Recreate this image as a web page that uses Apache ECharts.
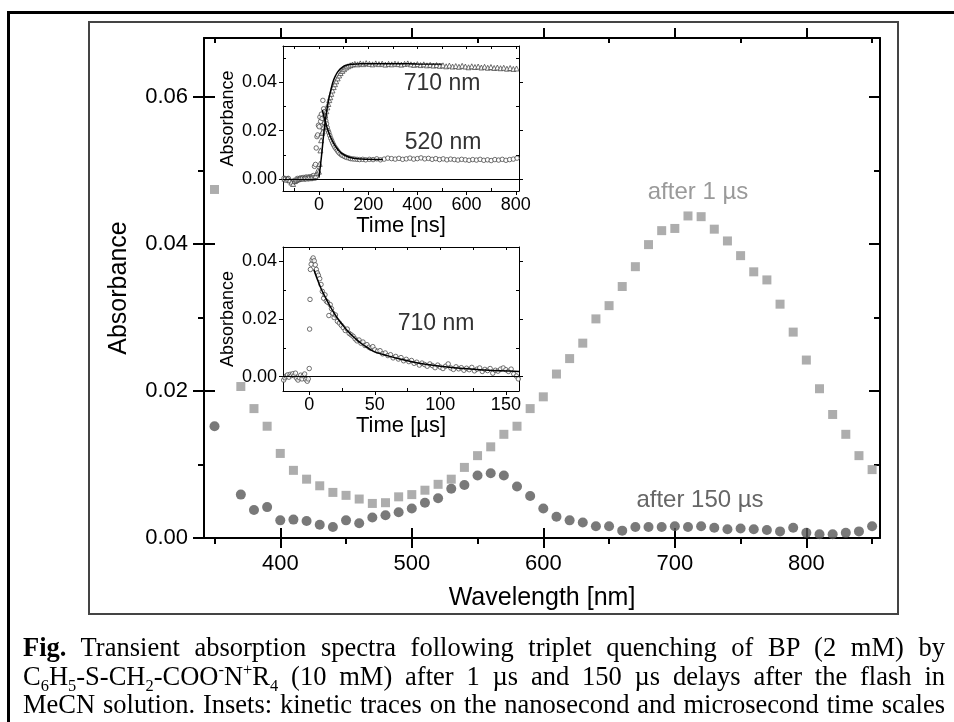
<!DOCTYPE html>
<html><head><meta charset="utf-8">
<script src="https://cdn.jsdelivr.net/npm/echarts@6/dist/echarts.min.js"></script>
<style>
html,body{margin:0;padding:0;background:#fff;overflow:hidden;width:954px;height:722px;}
#outer{position:absolute;left:7px;top:11px;width:2000px;height:2000px;border:3px solid #000;box-sizing:border-box;}
#frame{position:absolute;left:88px;top:21px;width:811px;height:594px;border:2px solid #444;box-sizing:border-box;}
#chart{position:absolute;left:0;top:0;width:954px;height:722px;}
.cap{position:absolute;left:23px;width:922px;font-family:"Liberation Serif","Times New Roman",serif;font-size:26.5px;line-height:28.5px;text-align:justify;text-align-last:justify;color:#000;}
.cap sub,.cap sup{font-size:0.62em;line-height:0;}
</style></head>
<body>
<div id="outer"></div>
<div id="frame"></div>
<div id="chart"></div>
<div class="cap" style="top:633px"><b>Fig.</b> Transient absorption spectra following triplet quenching of BP (2 mM) by</div>
<div class="cap" style="top:662px">C<sub>6</sub>H<sub>5</sub>-S-CH<sub>2</sub>-COO<sup>-</sup>N<sup>+</sup>R<sub>4</sub> (10 mM) after 1 µs and 150 µs delays after the flash in</div>
<div class="cap" style="top:690px">MeCN solution. Insets: kinetic traces on the nanosecond and microsecond time scales</div>
<script>
const FONT = '"Liberation Sans", Arial, sans-serif';

// ---- main spectra ----
const wavelengths = [350,370,380,390,400,410,420,430,440,450,460,470,480,490,500,510,520,530,540,550,560,570,580,590,600,610,620,630,640,650,660,670,680,690,700,710,720,730,740,750,760,770,780,790,800,810,820,830,840,850];
const after1us = [0.0474,0.0206,0.0176,0.0152,0.0115,0.0092,0.0080,0.0071,0.0062,0.0058,0.0053,0.0047,0.0048,0.0056,0.0059,0.0065,0.0073,0.0080,0.0096,0.0112,0.0124,0.0141,0.0152,0.0176,0.0192,0.0223,0.0244,0.0265,0.0298,0.0316,0.0342,0.0369,0.0399,0.0418,0.0421,0.0438,0.0437,0.0420,0.0404,0.0384,0.0362,0.0351,0.0318,0.0280,0.0242,0.0203,0.0168,0.0141,0.0112,0.0093];
const after150us = [0.0152,0.0059,0.0038,0.0042,0.0024,0.0025,0.0023,0.0018,0.0015,0.0024,0.0020,0.0028,0.0031,0.0035,0.0040,0.0048,0.0054,0.0067,0.0072,0.0085,0.0088,0.0085,0.0070,0.0057,0.0040,0.0029,0.0024,0.0021,0.0016,0.0016,0.0010,0.0015,0.0015,0.0015,0.0016,0.0015,0.0016,0.0014,0.0012,0.0013,0.0012,0.0011,0.0009,0.0014,0.0007,0.0005,0.0005,0.0007,0.0009,0.0016];

// ---- inset 1 (ns) ----
const ns520 = [[-142,0.0003],[-136,0.0001],[-130,-0.0004],[-124,0.0002],[-118,-0.0008],[-112,-0.0012],[-106,-0.0018],[-100,-0.0006],[-94,-0.0010],[-88,0.0002],[-82,-0.0003],[-76,0.0004],[-70,0.0001],[-64,0.0006],[-58,0.0003],[-52,0.0008],[-46,0.0005],[-40,0.0009],[-34,0.0006],[-28,0.0011],[-22,0.0014],[-18,0.0052],[-14,0.0060],[-11,0.0128],[-8,0.0175],[-5,0.0182],[-2,0.0222],[1,0.0216],[4,0.0256],[7,0.0238],[10,0.0268],[13,0.0250],[16,0.0325],[19,0.0290],[22,0.0278],[25,0.0262],[28,0.0240],[31,0.0228],[34,0.0212],[37,0.0200],[40,0.0192],[44,0.0180],[48,0.0168],[52,0.0158],[56,0.0148],[60,0.0140],[65,0.0131],[70,0.0124],[75,0.0117],[80,0.0110],[86,0.0104],[92,0.0099],[98,0.0096],[105,0.0092],[112,0.0089],[120,0.0087],[128,0.0084],[136,0.0083],[145,0.0082],[155,0.0081],[165,0.0080],[178,0.0081],[190,0.0079],[205,0.0081],[220,0.0080],[235,0.0083],[250,0.0079],[265,0.0082],[280,0.0086],[295,0.0084],[310,0.0082],[325,0.0085],[340,0.0081],[355,0.0083],[370,0.0086],[385,0.0082],[400,0.0084],[415,0.0087],[430,0.0083],[445,0.0085],[460,0.0081],[475,0.0084],[490,0.0080],[505,0.0083],[520,0.0079],[535,0.0082],[550,0.0080],[565,0.0078],[580,0.0081],[595,0.0079],[610,0.0077],[625,0.0080],[640,0.0078],[655,0.0081],[670,0.0077],[685,0.0079],[700,0.0076],[715,0.0080],[730,0.0078],[745,0.0081],[760,0.0077],[775,0.0080],[790,0.0082],[805,0.0086]];
const ns710 = [[-140,0.0001],[-133,-0.0003],[-126,0.0002],[-119,-0.0006],[-112,-0.0015],[-105,-0.0021],[-98,-0.0009],[-91,-0.0004],[-84,-0.0001],[-77,0.0002],[-70,0.0003],[-63,0.0001],[-56,0.0004],[-49,0.0002],[-42,0.0005],[-35,0.0003],[-28,0.0006],[-21,0.0005],[-14,0.0012],[-8,0.0024],[-4,0.0036],[0,0.0030],[3,0.0062],[6,0.0118],[9,0.0160],[12,0.0190],[15,0.0196],[18,0.0214],[22,0.0236],[26,0.0262],[30,0.0280],[34,0.0296],[38,0.0310],[42,0.0326],[46,0.0338],[50,0.0352],[55,0.0366],[60,0.0380],[65,0.0392],[70,0.0404],[76,0.0416],[82,0.0428],[88,0.0438],[95,0.0447],[102,0.0454],[110,0.0461],[118,0.0466],[127,0.0470],[136,0.0473],[146,0.0476],[157,0.0474],[168,0.0478],[180,0.0475],[192,0.0479],[205,0.0476],[218,0.0474],[231,0.0478],[244,0.0475],[257,0.0477],[270,0.0473],[283,0.0476],[296,0.0474],[309,0.0477],[322,0.0475],[335,0.0473],[348,0.0476],[361,0.0478],[374,0.0474],[387,0.0472],[400,0.0475],[413,0.0471],[426,0.0474],[439,0.0470],[452,0.0472],[465,0.0469],[478,0.0471],[491,0.0468],[504,0.0470],[517,0.0466],[530,0.0469],[543,0.0465],[556,0.0467],[569,0.0464],[582,0.0468],[595,0.0465],[608,0.0462],[621,0.0466],[634,0.0463],[647,0.0465],[660,0.0461],[673,0.0464],[686,0.0460],[699,0.0463],[712,0.0459],[725,0.0461],[738,0.0458],[751,0.0460],[764,0.0456],[777,0.0459],[790,0.0455],[803,0.0457]];
const fit710 = [[0,0.0005],[10,0.0090],[20,0.0190],[30,0.0270],[40,0.0330],[50,0.0375],[60,0.0410],[70,0.0432],[80,0.0448],[95,0.0462],[110,0.0470],[130,0.0474],[160,0.0476],[200,0.0477],[300,0.0477],[400,0.0476],[500,0.0475]];
const fit520 = [[14,0.0285],[20,0.0260],[30,0.0222],[40,0.0192],[50,0.0167],[60,0.0147],[70,0.0131],[80,0.0118],[90,0.0108],[100,0.0101],[115,0.0093],[130,0.0088],[150,0.0084],[175,0.0082],[200,0.0081],[260,0.0080]];

// ---- inset 2 (µs) ----
const us710 = [[-19.5,-0.0012],[-18.5,-0.0004],[-17.5,0.0002],[-16.5,0.0006],[-15.5,-0.0002],[-14.5,0.0008],[-13.5,0.0004],[-12.5,0.0010],[-11.5,0.0003],[-10.5,0.0012],[-9.5,-0.0006],[-8.5,-0.0012],[-7.5,-0.0004],[-6.5,0.0005],[-5.5,-0.0008],[-4.5,0.0003],[-3.5,0.0009],[-2.5,-0.0010],[-1.5,-0.0016],[-0.7,-0.0008],[0,0.0028],[0.3,0.0165],[0.6,0.0268],[0.9,0.0372],[1.5,0.0390],[2.2,0.0405],[3,0.0412],[3.8,0.0402],[4.6,0.0388],[5.4,0.0372],[6.2,0.0360],[7,0.0352],[8,0.0340],[9,0.0320],[10,0.0296],[11,0.0272],[12,0.0284],[13,0.0262],[14,0.0258],[15,0.0212],[16,0.0250],[17,0.0236],[18,0.0220],[19,0.0205],[20,0.0214],[21.5,0.0192],[23,0.0186],[24.5,0.0178],[26,0.0170],[27.5,0.0160],[29,0.0165],[30.5,0.0150],[32,0.0145],[33.5,0.0140],[35,0.0131],[36.5,0.0124],[38,0.0127],[39.5,0.0116],[41,0.0120],[42.5,0.0108],[44,0.0111],[45.5,0.0102],[47,0.0098],[48.5,0.0104],[50,0.0093],[52,0.0088],[54,0.0090],[56,0.0079],[58,0.0082],[60,0.0073],[62,0.0076],[64,0.0065],[66,0.0070],[68,0.0061],[70,0.0066],[72,0.0055],[74,0.0060],[76,0.0052],[78,0.0056],[80,0.0046],[82,0.0050],[84,0.0040],[86,0.0047],[88,0.0042],[90,0.0036],[92,0.0044],[94,0.0038],[96,0.0031],[98,0.0040],[100,0.0033],[102,0.0028],[104,0.0036],[106,0.0044],[108,0.0030],[110,0.0025],[112,0.0034],[114,0.0027],[116,0.0031],[118,0.0022],[120,0.0029],[122,0.0024],[124,0.0032],[126,0.0020],[128,0.0026],[130,0.0030],[132,0.0018],[134,0.0025],[136,0.0021],[138,0.0028],[140,0.0012],[142,0.0022],[144,0.0019],[146,0.0026],[148,0.0030],[150,0.0024],[152,0.0018],[154,0.0026],[156,0.0009],[158,0.0002],[159.5,-0.0008]];
const fitUs710 = [[3.5,0.0372],[6,0.0340],[9,0.0306],[12,0.0278],[15,0.0252],[20,0.0213],[25,0.0182],[30,0.0155],[35,0.0133],[40,0.0114],[45,0.0099],[50,0.0086],[60,0.0072],[70,0.0060],[80,0.0050],[90,0.0042],[100,0.0036],[115,0.0029],[130,0.0024],[145,0.0020],[160,0.0018]];

// ---- ticks ----
const mainXMajor = [400,500,600,700,800];
const mainXMinor = [350,450,550,650,750,850];
const mainYMajor = [0,0.02,0.04,0.06];
const mainYMinor = [0.01,0.03,0.05];
const nsXMajor = [0,200,400,600,800];
const nsXMinor = [-100,100,300,500,700];
const nsYMajor = [0,0.02,0.04];
const nsYMinor = [0.01,0.03,0.05];
const usXMajor = [0,50,100,150];
const usXMinor = [25,75,125];
const usYMajor = [0,0.02,0.04];
const usYMinor = [0.01,0.03];

const MAINX = [342,856], MAINY = [0,0.068];
const NSX = [-146,813], NSY = [-0.005,0.055];
const USX = [-20,160], USY = [-0.005,0.045];

function axis(o) {
  const a = {
    type:'value', gridIndex:o.g, position:o.pos, min:o.r[0], max:o.r[1],
    axisLine:{show:!!o.line, onZero:false, lineStyle:{color:'#000', width:o.lw||2}},
    axisTick:{show:true, inside:!!o.inside, length:o.len, customValues:o.ticks, lineStyle:{color:'#000', width:o.tw||2}},
    splitLine:{show:false},
    axisLabel:{show:false}
  };
  if (o.labels) a.axisLabel = {show:true, customValues:o.labels, margin:o.margin, formatter:o.fmt, fontSize:o.fs, fontFamily:FONT, color:'#000'};
  if (o.name) {
    a.name = o.name; a.nameLocation='middle'; a.nameGap=o.gap;
    a.nameTextStyle = {fontSize:o.nfs, fontFamily:FONT, color:'#000'};
  }
  return a;
}
const f2 = v => v.toFixed(2);
const f0 = v => String(Math.round(v));

const xAxis = [
  axis({g:0,pos:'bottom',r:MAINX,line:true,ticks:mainXMajor,len:10,labels:mainXMajor,margin:15,fmt:f0,fs:22,name:'Wavelength [nm]',gap:48,nfs:25}),
  axis({g:0,pos:'bottom',r:MAINX,ticks:mainXMajor,len:10,inside:true}),
  axis({g:0,pos:'bottom',r:MAINX,ticks:mainXMinor,len:6}),
  axis({g:0,pos:'top',r:MAINX,line:true,ticks:mainXMajor,len:10}),
  axis({g:0,pos:'top',r:MAINX,ticks:mainXMinor,len:5,inside:true}),
  axis({g:1,pos:'bottom',r:NSX,line:true,lw:1,tw:1,ticks:nsXMajor,len:4,labels:nsXMajor,margin:5,fmt:f0,fs:18,name:'Time [ns]',gap:22,nfs:22}),
  axis({g:1,pos:'bottom',r:NSX,tw:1,ticks:nsXMinor,len:3,inside:true}),
  axis({g:1,pos:'top',r:NSX,line:true,lw:1,tw:1,ticks:nsXMajor.concat(nsXMinor),len:3,inside:true}),
  axis({g:2,pos:'bottom',r:USX,line:true,lw:1,tw:1,ticks:usXMajor,len:4,labels:usXMajor,margin:5,fmt:f0,fs:18,name:'Time [µs]',gap:20,nfs:22}),
  axis({g:2,pos:'bottom',r:USX,tw:1,ticks:usXMinor,len:3,inside:true}),
  axis({g:2,pos:'top',r:USX,line:true,lw:1,tw:1,ticks:usXMajor.concat(usXMinor),len:3,inside:true})
];
const yAxis = [
  axis({g:0,pos:'left',r:MAINY,line:true,ticks:mainYMajor,len:11,labels:mainYMajor,margin:16,fmt:f2,fs:22,name:'Absorbance',gap:72,nfs:25}),
  axis({g:0,pos:'left',r:MAINY,ticks:mainYMajor,len:11,inside:true}),
  axis({g:0,pos:'left',r:MAINY,ticks:mainYMinor,len:6}),
  axis({g:0,pos:'right',r:MAINY,line:true,ticks:mainYMajor,len:11,inside:true}),
  axis({g:0,pos:'right',r:MAINY,ticks:mainYMinor,len:6,inside:true}),
  axis({g:1,pos:'left',r:NSY,line:true,lw:1,tw:1,ticks:nsYMajor,len:4,labels:nsYMajor,margin:6,fmt:f2,fs:18,name:'Absorbance',gap:46,nfs:18}),
  axis({g:1,pos:'left',r:NSY,tw:1,ticks:nsYMinor,len:3,inside:true}),
  axis({g:1,pos:'right',r:NSY,line:true,lw:1,tw:1,ticks:nsYMajor,len:4}),
  axis({g:1,pos:'right',r:NSY,tw:1,ticks:nsYMinor,len:3,inside:true}),
  axis({g:2,pos:'left',r:USY,line:true,lw:1,tw:1,ticks:usYMajor,len:4,labels:usYMajor,margin:6,fmt:f2,fs:18,name:'Absorbance',gap:46,nfs:18}),
  axis({g:2,pos:'left',r:USY,tw:1,ticks:usYMinor,len:3,inside:true}),
  axis({g:2,pos:'right',r:USY,line:true,lw:1,tw:1,ticks:usYMajor,len:4}),
  axis({g:2,pos:'right',r:USY,tw:1,ticks:usYMinor,len:3,inside:true})
];

const zeroLine = {silent:true, symbol:['none','none'], label:{show:false}, animation:false,
  lineStyle:{color:'#000', width:1, type:'solid'}, data:[{yAxis:0}]};
const openMark = {color:'#fff', borderColor:'#3a3a3a', borderWidth:0.9};

const chart = echarts.init(document.getElementById('chart'), null, {renderer:'canvas'});
chart.setOption({
  animation:false,
  grid:[
    {left:204, top:38, width:676, height:500},
    {left:283, top:46, width:236, height:145, show:true, backgroundColor:'#fff', borderWidth:0},
    {left:283, top:247, width:236, height:144, show:true, backgroundColor:'#fff', borderWidth:0}
  ],
  xAxis, yAxis,
  graphic:[
    {type:'text', x:698, y:192, style:{text:'after 1 µs', fill:'#9a9a9a', font:'24px '+FONT, align:'center', verticalAlign:'middle'}},
    {type:'text', x:700, y:500, style:{text:'after 150 µs', fill:'#666', font:'24px '+FONT, align:'center', verticalAlign:'middle'}},
    {type:'text', x:442, y:84, z:10, style:{text:'710 nm', fill:'#333', font:'23px '+FONT, align:'center', verticalAlign:'middle'}},
    {type:'text', x:443, y:143, z:10, style:{text:'520 nm', fill:'#333', font:'23px '+FONT, align:'center', verticalAlign:'middle'}},
    {type:'text', x:436, y:324, z:10, style:{text:'710 nm', fill:'#333', font:'23px '+FONT, align:'center', verticalAlign:'middle'}}
  ],
  series:[
    {type:'scatter', name:'after 1 µs', xAxisIndex:0, yAxisIndex:0, symbol:'rect', symbolSize:9,
      itemStyle:{color:'#999'}, data:wavelengths.map((w,i)=>[w, after1us[i]])},
    {type:'scatter', name:'after 150 µs', xAxisIndex:0, yAxisIndex:0, symbol:'circle', symbolSize:10,
      itemStyle:{color:'#575757'}, data:wavelengths.map((w,i)=>[w, after150us[i]])},
    {type:'line', xAxisIndex:5, yAxisIndex:5, data:[], markLine:zeroLine},
    {type:'scatter', name:'520 nm', xAxisIndex:5, yAxisIndex:5, symbol:'circle', symbolSize:4.5, itemStyle:openMark, data:ns520},
    {type:'scatter', name:'710 nm', xAxisIndex:5, yAxisIndex:5, symbol:'triangle', symbolSize:5, itemStyle:openMark, data:ns710},
    {type:'line', xAxisIndex:5, yAxisIndex:5, showSymbol:false, smooth:true, lineStyle:{color:'#000', width:1.5}, data:fit710, z:5},
    {type:'line', xAxisIndex:5, yAxisIndex:5, showSymbol:false, smooth:true, lineStyle:{color:'#000', width:1.5}, data:fit520, z:5},
    {type:'line', xAxisIndex:8, yAxisIndex:9, data:[], markLine:zeroLine},
    {type:'scatter', name:'710 nm µs', xAxisIndex:8, yAxisIndex:9, symbol:'circle', symbolSize:4.5, itemStyle:openMark, data:us710},
    {type:'line', xAxisIndex:8, yAxisIndex:9, showSymbol:false, smooth:true, lineStyle:{color:'#000', width:1.5}, data:fitUs710, z:5}
  ]
});
</script>
</body></html>
